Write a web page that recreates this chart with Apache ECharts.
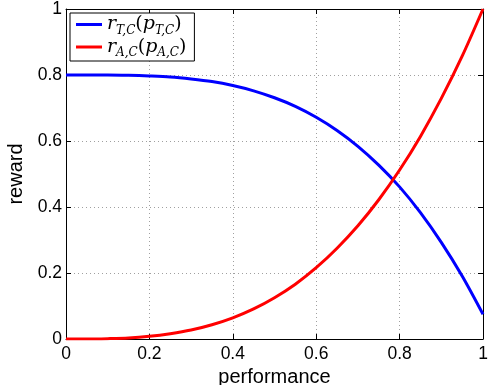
<!DOCTYPE html>
<html>
<head>
<meta charset="utf-8">
<script src="https://cdn.jsdelivr.net/npm/echarts@6/dist/echarts.min.js"></script>
<style>
html,body{margin:0;padding:0;background:#fff;}
#c{width:488px;height:385px;}
</style>
</head>
<body>
<div id="c"></div>
<script>
// performance sample points
var performance = [0, 0.05, 0.1, 0.15, 0.2, 0.25, 0.3, 0.35, 0.4, 0.45, 0.5, 0.55, 0.6, 0.65, 0.7, 0.75, 0.8, 0.85, 0.9, 0.95, 1.0];
// r_T,C(p_T,C) values
var rewardTC = [0.800, 0.800, 0.800, 0.799, 0.797, 0.794, 0.788, 0.780, 0.768, 0.752, 0.731, 0.705, 0.672, 0.632, 0.584, 0.527, 0.461, 0.383, 0.293, 0.191, 0.075];
// r_A,C(p_A,C) values
var rewardAC = [0.000, 0.000, 0.001, 0.003, 0.008, 0.016, 0.027, 0.043, 0.064, 0.091, 0.125, 0.166, 0.216, 0.275, 0.343, 0.422, 0.512, 0.614, 0.729, 0.857, 1.000];
var xTicks = [0, 0.2, 0.4, 0.6, 0.8, 1];
var yTicks = [0, 0.2, 0.4, 0.6, 0.8, 1];
var seriesNames = ['rTC', 'rAC'];
var seriesSubs = ['T,C', 'A,C'];

function pairs(xs, ys){ return xs.map(function(x,i){ return [x, ys[i]]; }); }
function fmt(v){ return String(Math.round(v*10)/10); }

var FONT = '"Liberation Sans", Arial, Helvetica, sans-serif';
var SERIF = '"DejaVu Serif", "Liberation Serif", serif';
var tickFont = 17.5;

var chart = echarts.init(document.getElementById('c'), null, {renderer:'canvas'});
var axisCommon = {
  type: 'value', min: 0, max: 1, interval: 0.2,
  axisLine: {show: true, onZero: false, lineStyle: {color: '#000', width: 1}},
  axisTick: {show: true, inside: true, length: 5, lineStyle: {color: '#000'}}
};
var legendRich = {
  i: {fontFamily: SERIF, fontStyle: 'italic', fontSize: 19, color: '#000', lineHeight: 21},
  n: {fontFamily: SERIF, fontSize: 19, color: '#000', lineHeight: 21},
  s: {fontFamily: SERIF, fontStyle: 'italic', fontSize: 12, color: '#000', lineHeight: 10, padding: [6, 0, -6, 0]}
};
chart.setOption({
  animation: false,
  backgroundColor: '#fff',
  grid: {left: 66, right: 5, top: 9, bottom: 46, containLabel: false, outerBoundsMode: 'none'},
  legend: {
    orient: 'vertical', left: 70, top: 13,
    backgroundColor: '#fff', borderColor: '#000', borderWidth: 1, borderRadius: 0,
    padding: [2, 8, 2, 6], itemGap: 1, itemWidth: 26, itemHeight: 3,
    icon: 'rect',
    data: seriesNames,
    formatter: function(name){
      var sub = seriesSubs[seriesNames.indexOf(name)];
      return '{i|r}{s|' + sub + '}{n|(}{i|p}{s|' + sub + '}{n|)}';
    },
    textStyle: {rich: legendRich, padding: [0,0,0,0]}
  },
  xAxis: [
    Object.assign({}, axisCommon, {
      position: 'bottom',
      name: 'performance', nameLocation: 'middle', nameGap: 20,
      nameTextStyle: {fontFamily: FONT, fontSize: 20, color: '#000'},
      axisLabel: {show: true, margin: 6, color: '#000', fontFamily: FONT, fontSize: tickFont, formatter: fmt, showMinLabel: true, showMaxLabel: true},
      splitLine: {show: true, lineStyle: {color: '#a0a0a0', type: [1, 3], width: 1}}
    }),
    Object.assign({}, axisCommon, {
      position: 'top', axisLabel: {show: false}, splitLine: {show: false}
    })
  ],
  yAxis: [
    Object.assign({}, axisCommon, {
      position: 'left',
      name: 'reward', nameLocation: 'middle', nameGap: 37,
      nameTextStyle: {fontFamily: FONT, fontSize: 20, color: '#000'},
      axisLabel: {show: true, margin: 4, color: '#000', fontFamily: FONT, fontSize: tickFont, formatter: fmt, showMinLabel: true, showMaxLabel: true},
      splitLine: {show: true, lineStyle: {color: '#a0a0a0', type: [1, 3], width: 1}}
    }),
    Object.assign({}, axisCommon, {
      position: 'right', axisLabel: {show: false}, splitLine: {show: false}
    })
  ],
  series: [
    {name: seriesNames[0], type: 'line', xAxisIndex: 0, yAxisIndex: 0, data: pairs(performance, rewardTC),
     smooth: 0.3, showSymbol: false, symbol: 'none', lineStyle: {color: '#0000ff', width: 3}, itemStyle: {color: '#0000ff'}, z: 3},
    {name: seriesNames[1], type: 'line', xAxisIndex: 0, yAxisIndex: 0, data: pairs(performance, rewardAC),
     smooth: 0.3, showSymbol: false, symbol: 'none', lineStyle: {color: '#ff0000', width: 3}, itemStyle: {color: '#ff0000'}, z: 4}
  ]
});
</script>
</body>
</html>
